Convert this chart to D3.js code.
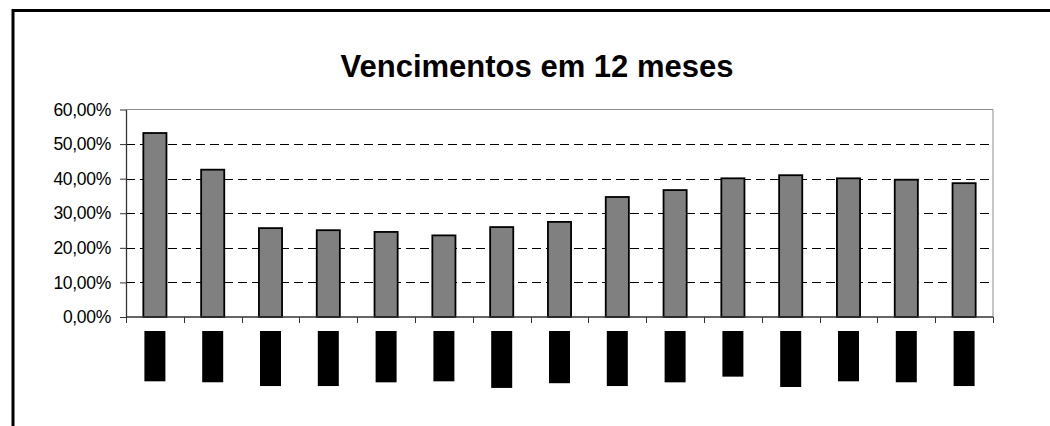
<!DOCTYPE html>
<html>
<head>
<meta charset="utf-8">
<script src="https://cdn.jsdelivr.net/npm/d3@7"></script>
<style>
  body { margin: 0; background: #fff; }
  svg { display: block; font-family: "Liberation Sans", Arial, sans-serif; }
</style>
</head>
<body>
<div id="container"></div>
<script>
const width = 1050;
const height = 426;

// chart data
const title = "Vencimentos em 12 meses";
const categories = ["set/02", "out/02", "nov/02", "dez/02", "jan/03", "fev/03", "mar/03", "abr/03",
	"mai/03", "jun/03", "jul/03", "ago/03", "set/03", "out/03", "nov/03"];
const values = [0.532, 0.426, 0.257, 0.251, 0.246, 0.236, 0.260, 0.275,
	0.347, 0.367, 0.401, 0.410, 0.401, 0.397, 0.387];
const yTicks = [0, 0.1, 0.2, 0.3, 0.4, 0.5, 0.6];

const plot = {left: 126, right: 993, top: 109.5, bottom: 317};

// pt-BR number format (comma decimal)
const locale = d3.formatLocale({decimal: ",", thousands: ".", grouping: [3], currency: ["R$", ""]});
const pct = locale.format(".2%");

let svg = d3.select("#container")
	.append("svg")
	.attr("width", width)
	.attr("height", height);

// outer frame (runs past the right and bottom edges)
svg.append("rect")
	.attr("x", 13)
	.attr("y", 10.5)
	.attr("width", width + 20)
	.attr("height", height + 20)
	.attr("fill", "none")
	.attr("stroke", "#000")
	.attr("stroke-width", 3);

svg.append("text")
	.attr("x", 537)
	.attr("y", 77)
	.attr("text-anchor", "middle")
	.attr("font-size", 31)
	.attr("font-weight", "bold")
	.text(title);

const x = d3.scaleBand()
	.domain(categories)
	.range([plot.left, plot.right])
	.paddingInner(0.6)
	.paddingOuter(0.3);

const y = d3.scaleLinear()
	.domain([0, 0.6])
	.range([plot.bottom, plot.top]);

// plot area border, top and right in grey
svg.append("path")
	.attr("d", `M${plot.left},${plot.top}H${plot.right}V${plot.bottom}`)
	.attr("fill", "none")
	.attr("stroke", "#8c8c8c")
	.attr("stroke-width", 1);

// dashed gridlines
svg.append("g")
	.selectAll("line")
	.data(yTicks.filter(d => d > 0 && d < 0.6))
	.enter()
	.append("line")
	.attr("x1", plot.left)
	.attr("x2", plot.right)
	.attr("y1", d => Math.round(y(d)) + 0.5)
	.attr("y2", d => Math.round(y(d)) + 0.5)
	.attr("stroke", "#000")
	.attr("stroke-dasharray", "9,5");

// bars
svg.append("g")
	.selectAll("rect")
	.data(values)
	.enter()
	.append("rect")
	.attr("x", (d, i) => x(categories[i]))
	.attr("y", d => y(d))
	.attr("width", x.bandwidth())
	.attr("height", d => plot.bottom - y(d))
	.attr("fill", "#808080")
	.attr("stroke", "#000")
	.attr("stroke-width", 1.8);

// y axis
const yAxis = svg.append("g")
	.attr("transform", `translate(${plot.left},0)`)
	.call(d3.axisLeft(y).tickValues(yTicks).tickFormat(pct).tickSizeInner(6).tickSizeOuter(0).tickPadding(9));
yAxis.select(".domain").attr("stroke", "#333").attr("stroke-width", 1.3);
yAxis.selectAll(".tick line").attr("stroke", "#333");
yAxis.selectAll("text")
	.attr("font-family", "'Liberation Sans', Arial, sans-serif")
	.attr("font-size", 17.5)
	.attr("letter-spacing", -0.3)
	.attr("fill", "#000");

// x axis: ticks at the band boundaries
const boundaries = d3.range(categories.length + 1).map(i => plot.left + i * (plot.right - plot.left) / categories.length);
svg.append("line")
	.attr("x1", plot.left).attr("x2", plot.right)
	.attr("y1", plot.bottom).attr("y2", plot.bottom)
	.attr("stroke", "#333").attr("stroke-width", 1.3);
svg.append("g")
	.selectAll("line")
	.data(boundaries)
	.enter()
	.append("line")
	.attr("x1", d => Math.round(d) + 0.5)
	.attr("x2", d => Math.round(d) + 0.5)
	.attr("y1", plot.bottom)
	.attr("y2", plot.bottom + 6)
	.attr("stroke", "#333");

// category labels, rotated; shown as solid blocks like the source
const labels = svg.append("g")
	.selectAll("g")
	.data(categories)
	.enter()
	.append("g")
	.attr("transform", d => `translate(${x(d) + x.bandwidth() / 2},331) rotate(-90)`);
labels.append("text")
	.attr("text-anchor", "end")
	.attr("dy", "0.35em")
	.attr("font-size", 17)
	.attr("fill", "#000")
	.text(d => d);
labels.each(function() {
	const g = d3.select(this);
	const b = g.select("text").node().getBBox();
	g.insert("rect", "text")
		.attr("x", b.x - 4)
		.attr("y", -10.5)
		.attr("width", b.width + 4)
		.attr("height", 21)
		.attr("fill", "#000");
});
</script>
</body>
</html>
